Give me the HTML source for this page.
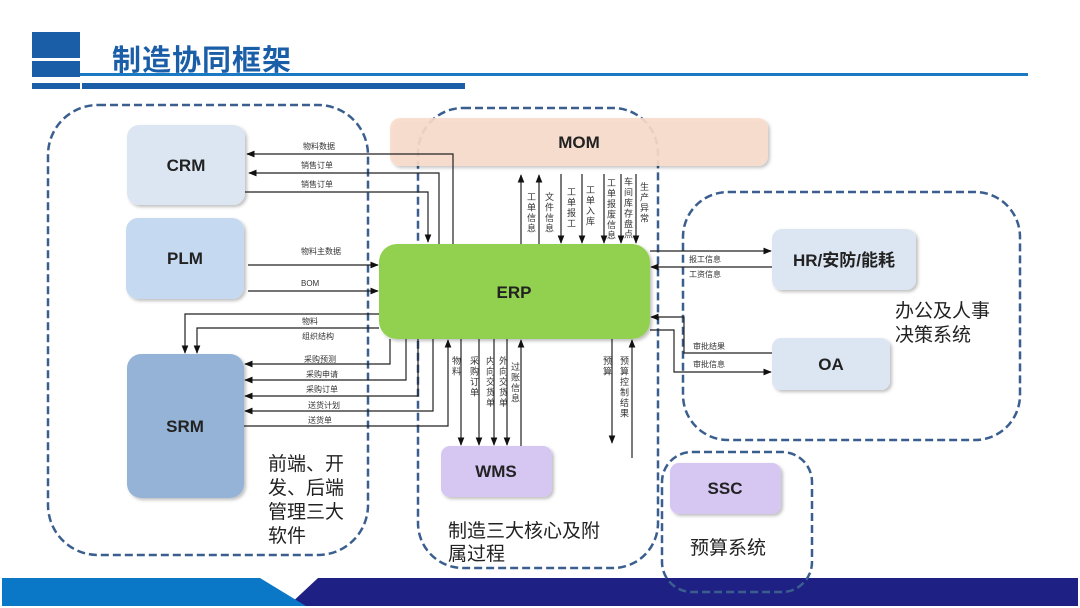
<!DOCTYPE html>
<html><head><meta charset="utf-8"><style>
html,body{margin:0;padding:0;background:#fff;}
svg{display:block;}
text{font-family:"Liberation Sans","Noto Sans CJK SC",sans-serif;}
</style></head><body>
<svg width="1080" height="608" viewBox="0 0 1080 608" xmlns="http://www.w3.org/2000/svg">
<defs>
<marker id="a" viewBox="0 0 10 10" refX="9" refY="5" markerWidth="7" markerHeight="7" orient="auto-start-reverse"><path d="M0,1 L10,5 L0,9 z" fill="#111"/></marker>
<filter id="sh" x="-10%" y="-10%" width="130%" height="130%"><feDropShadow dx="2" dy="2" stdDeviation="1.5" flood-color="#000" flood-opacity="0.25"/></filter>
</defs>
<rect x="32" y="32" width="48" height="26" fill="#1a5ea8"/>
<rect x="32" y="61" width="48" height="16" fill="#1a5ea8"/>
<rect x="32" y="83" width="48" height="6" fill="#1a5ea8"/>
<rect x="82" y="83" width="383" height="6" fill="#1a5ea8"/>
<rect x="80" y="73" width="948" height="3" fill="#1a7ac4"/>
<text x="112" y="70" font-size="29" font-weight="bold" fill="#1a5ea8" letter-spacing="1">制造协同框架</text>
<polygon points="318,578 1078,578 1078,606 288,606" fill="#1f2083"/>
<polygon points="2,578 260,578 306,606 2,606" fill="#0a78c6"/>
<g fill="none" stroke="#3a5f8f" stroke-width="2.5" stroke-dasharray="8,4">
<rect x="48" y="105" width="320" height="450" rx="50"/>
<rect x="418" y="108" width="240" height="460" rx="45"/>
<rect x="683" y="192" width="337" height="248" rx="45"/>
<rect x="662" y="452" width="150" height="140" rx="30"/>
</g>
<g filter="url(#sh)">
<rect x="390" y="118" width="378" height="48" rx="10" fill="#f8dccb" opacity="0.9"/>
<rect x="127" y="125" width="118" height="80" rx="12" fill="#dce6f2"/>
<rect x="126" y="218" width="118" height="81" rx="12" fill="#c5d9f1"/>
<rect x="127" y="354" width="117" height="144" rx="14" fill="#95b3d7"/>
<rect x="379" y="244" width="271" height="95" rx="18" fill="#92d050"/>
<rect x="441" y="446" width="111" height="51" rx="9" fill="#d5c6f2"/>
<rect x="670" y="463" width="111" height="51" rx="9" fill="#d5c6f2"/>
<rect x="772" y="229" width="144" height="61" rx="10" fill="#dce6f2"/>
<rect x="772" y="338" width="118" height="52" rx="9" fill="#dce6f2"/>
</g>
<g font-weight="bold" fill="#222" text-anchor="middle" font-size="17">
<text x="579" y="148">MOM</text>
<text x="186" y="171">CRM</text>
<text x="185" y="264">PLM</text>
<text x="185" y="432">SRM</text>
<text x="514" y="298">ERP</text>
<text x="496" y="477">WMS</text>
<text x="725" y="494">SSC</text>
<text x="844" y="266">HR/安防/能耗</text>
<text x="831" y="370">OA</text>
</g>
<g fill="none" stroke="#222" stroke-width="1.2">
<path d="M453,244 V154 H247" marker-end="url(#a)"/>
<path d="M439,244 V173 H249" marker-end="url(#a)"/>
<path d="M245,192 H428 V242" marker-end="url(#a)"/>
<path d="M248,265 H378" marker-end="url(#a)"/>
<path d="M248,291 H378" marker-end="url(#a)"/>
<path d="M379,314 H185 V353" marker-end="url(#a)"/>
<path d="M379,328 H197 V353" marker-end="url(#a)"/>
<path d="M390,339 V364 H245" marker-end="url(#a)"/>
<path d="M406,339 V380 H245" marker-end="url(#a)"/>
<path d="M418,339 V396 H245" marker-end="url(#a)"/>
<path d="M433,339 V411 H245" marker-end="url(#a)"/>
<path d="M244,426 H448 V340" marker-end="url(#a)"/>
<path d="M521,244 V175" marker-end="url(#a)"/>
<path d="M539,244 V175" marker-end="url(#a)"/>
<path d="M561,174 V243" marker-end="url(#a)"/>
<path d="M582,174 V243" marker-end="url(#a)"/>
<path d="M604,174 V243" marker-end="url(#a)"/>
<path d="M621,174 V243" marker-end="url(#a)"/>
<path d="M636,174 V243" marker-end="url(#a)"/>
<path d="M461,339 V445" marker-end="url(#a)"/>
<path d="M479,339 V445" marker-end="url(#a)"/>
<path d="M494,339 V445" marker-end="url(#a)"/>
<path d="M507,339 V445" marker-end="url(#a)"/>
<path d="M521,446 V340" marker-end="url(#a)"/>
<path d="M612,339 V443" marker-end="url(#a)"/>
<path d="M632,458 V340" marker-end="url(#a)"/>
<path d="M650,251 H771" marker-end="url(#a)"/>
<path d="M772,267 H651" marker-end="url(#a)"/>
<path d="M772,353 H684 V317 H651" marker-end="url(#a)"/>
<path d="M650,330 H674 V372 H771" marker-end="url(#a)"/>
</g>
<g font-size="8" fill="#333">
<text x="303" y="149">物料数据</text>
<text x="301" y="168">销售订单</text>
<text x="301" y="187">销售订单</text>
<text x="301" y="254">物料主数据</text>
<text x="301" y="286">BOM</text>
<text x="302" y="324">物料</text>
<text x="302" y="339">组织结构</text>
<text x="304" y="362">采购预测</text>
<text x="306" y="377">采购申请</text>
<text x="306" y="392">采购订单</text>
<text x="308" y="408">送货计划</text>
<text x="308" y="423">送货单</text>
<text x="689" y="262">报工信息</text>
<text x="689" y="277">工资信息</text>
<text x="693" y="349">审批结果</text>
<text x="693" y="367">审批信息</text>
</g>
<g font-size="9" fill="#333" text-anchor="start" letter-spacing="1.5" style="writing-mode:vertical-rl">
<text x="531" y="192">工单信息</text>
<text x="549" y="192">文件信息</text>
<text x="571" y="187">工单报工</text>
<text x="590" y="185">工单入库</text>
<text x="611" y="178">工单报废信息</text>
<text x="628" y="177">车间库存盘点</text>
<text x="644" y="182">生产异常</text>
<text x="456" y="356">物料</text>
<text x="474" y="356">采购订单</text>
<text x="490" y="356">内向交货单</text>
<text x="503" y="356">外向交货单</text>
<text x="515" y="362">过账信息</text>
<text x="607" y="356">预算</text>
<text x="624" y="356">预算控制结果</text>
</g>
<g font-size="19" fill="#222">
<text x="268" y="470">前端、开</text>
<text x="268" y="494">发、后端</text>
<text x="268" y="518">管理三大</text>
<text x="268" y="542">软件</text>
<text x="448" y="537">制造三大核心及附</text>
<text x="448" y="560">属过程</text>
<text x="690" y="554">预算系统</text>
<text x="895" y="317">办公及人事</text>
<text x="895" y="341">决策系统</text>
</g>
</svg>
</body></html>
